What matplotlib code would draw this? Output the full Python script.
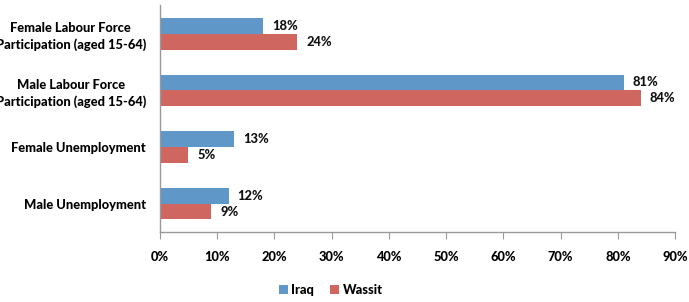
import matplotlib
matplotlib.use("Agg")
import matplotlib.pyplot as plt
import numpy as np

categories = ["Female Labour Force\nParticipation (aged 15-64)",
              "Male Labour Force\nParticipation (aged 15-64)",
              "Female Unemployment",
              "Male Unemployment"]
iraq = [18, 81, 13, 12]
wassit = [24, 84, 5, 9]
series_names = ["Iraq", "Wassit"]
xticks = [0, 10, 20, 30, 40, 50, 60, 70, 80, 90]

plt.rcParams['font.family'] = ['Lato', 'DejaVu Sans']
W = 900
FS = 9.3

fig = plt.figure(figsize=(6.89, 3.02), dpi=100)
ax = fig.add_axes([0.232, 0.232, 0.748, 0.75])

y = np.arange(len(categories))
h = 0.28
c_iraq = "#5F97C9"
c_wassit = "#CF6660"
b1 = ax.barh(y - h/2, iraq, height=h, color=c_iraq, label=series_names[0])
b2 = ax.barh(y + h/2, wassit, height=h, color=c_wassit, label=series_names[1])

for bars, vals in ((b1, iraq), (b2, wassit)):
    for bar, v in zip(bars, vals):
        ax.annotate(f"{v}%", (bar.get_width(), bar.get_y() + bar.get_height()/2),
                    xytext=(6.5, 0), textcoords="offset points", va="center", ha="left",
                    fontsize=FS, fontweight=W, color="#111111")

ax.set_ylim(3.5, -0.5)
ax.set_xlim(0, 90)
ax.set_xticks(xticks)
ax.set_xticklabels([f"{t}%" for t in xticks], fontsize=FS, fontweight=W)
ax.set_yticks(y)
ax.set_yticklabels(categories, fontsize=FS, fontweight=W, linespacing=1.4)
for lab in ax.get_yticklabels():
    lab.set_multialignment("center")
ax.tick_params(axis="y", length=0, pad=10)
ax.tick_params(axis="x", length=5, direction="out", color="#999999", pad=9)
for s in ["top", "right"]:
    ax.spines[s].set_visible(False)
for s in ["left", "bottom"]:
    ax.spines[s].set_color("#999999")
    ax.spines[s].set_linewidth(1)

leg = fig.legend(handles=[b1, b2], labels=series_names, loc="lower center",
                 bbox_to_anchor=(0.48, -0.02), ncol=2, frameon=False,
                 prop={'size': FS, 'weight': W},
                 handlelength=0.7, handleheight=0.7, handletextpad=0.3, columnspacing=1.2)

fig.savefig("out.png", dpi=100)
